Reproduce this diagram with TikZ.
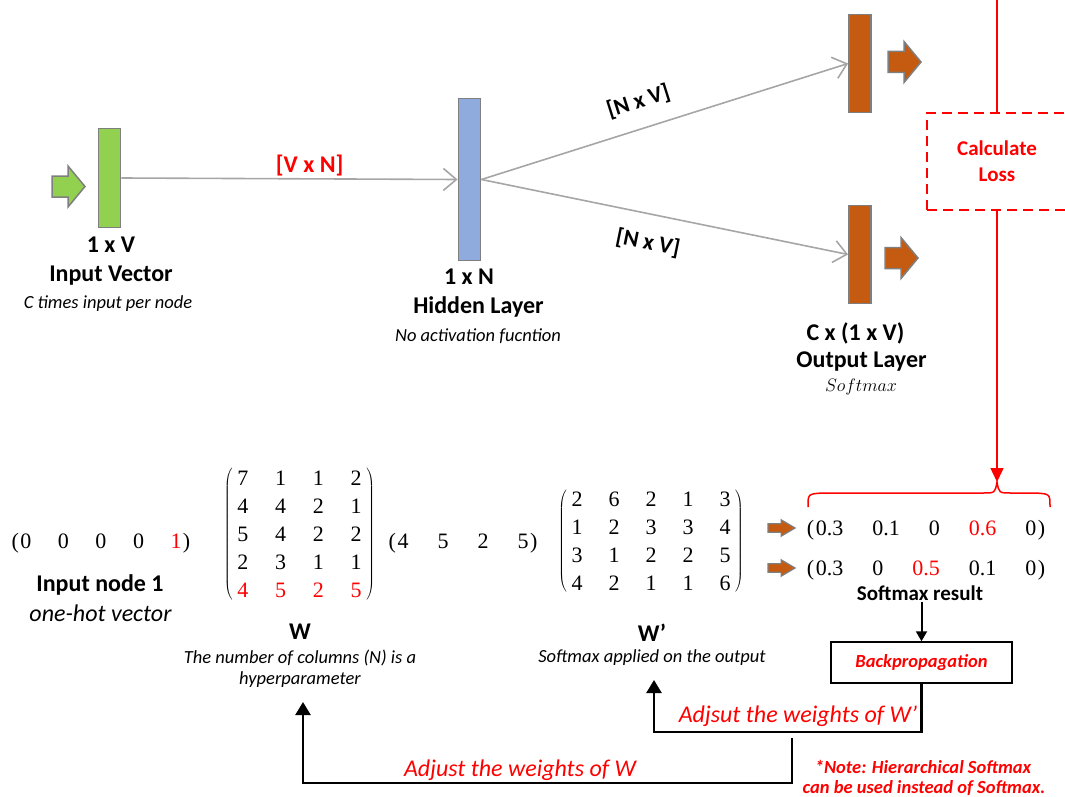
\documentclass[tikz,border=0pt]{standalone}
\usepackage{fix-cm}
\usepackage{amsmath}
\usepackage[no-math]{fontspec}
\setmainfont{Carlito}
\newfontfamily\numfont{Liberation Serif}
\usetikzlibrary{shapes,arrows.meta,positioning,calc,matrix}

\definecolor{layergreen}{HTML}{92D050}
\definecolor{layerblue}{HTML}{8FAADC}
\definecolor{layerorange}{HTML}{C55A11}
\definecolor{rimgray}{HTML}{7F7F7F}
\definecolor{wiregray}{HTML}{A6A6A6}

% parentheses of a one-row vector, hung outside its first and last entry
\newcommand\openvec{\llap{(\kern1.5pt}}
\newcommand\closevec{\rlap{\color{black}\kern1.5pt)}}

\tikzset{
  layer/.style={draw=rimgray, line width=1.8pt, minimum width=22pt, inner sep=0pt},
  wire/.style={wiregray, line width=1.6pt, -{Straight Barb[length=13pt,width=22pt,line width=1.6pt]}},
  title/.style={inner sep=1pt, text=black, font=\fontsize{24}{28}\selectfont\bfseries},
  remark/.style={inner sep=1pt, font=\fontsize{18.5}{22}\selectfont\itshape},
  redtext/.style={inner sep=1pt, text=red, font=\fontsize{24}{28}\selectfont\itshape},
  rowvec/.style={matrix of nodes,
    nodes={inner sep=0pt, text height=15pt, text depth=0pt, font=\fontsize{22}{26}\numfont}},
  vec/.style={rowvec, left delimiter=(, right delimiter=),
    every left delimiter/.style={xshift=2pt}, every right delimiter/.style={xshift=-2pt}},
  feedback/.style={line width=2.4pt, -{Triangle[length=13pt,width=15pt]}},
  fatarrow/.pic={
    \draw[pic actions] (0,-10.5) -- (16,-10.5) -- (16,-20.5) -- (33,0)
      -- (16,20.5) -- (16,10.5) -- (0,10.5) -- cycle;
  }
}

\begin{document}
\begin{tikzpicture}[x=1pt, y=-1pt]
  \useasboundingbox (0,0) rectangle (1065,797);
  \clip (0,0) rectangle (1065,797);

  % layers of the network
  \pic[draw=rimgray, fill=layergreen, line width=1.5pt] at (52,186.5) {fatarrow};
  \node[layer, fill=layergreen, minimum height=99pt] (inlayer) at (109.5,178) {};
  \node[layer, fill=layerblue, minimum height=162pt] (hidlayer) at (469.5,179.5) {};
  \node[layer, fill=layerorange, minimum height=98pt] (outtop) at (860,63.5) {};
  \node[layer, fill=layerorange, minimum height=98pt] (outbot) at (860,254.5) {};
  \pic[draw=rimgray, fill=layerorange, line width=1.5pt] at (888,62) {fatarrow};
  \pic[draw=rimgray, fill=layerorange, line width=1.5pt] at (885,258) {fatarrow};

  % weights between the layers
  \draw[wire] (inlayer.east) -- node[pos=0.56, above=1pt, title, text=red] {[V x N]} (hidlayer.west);
  \draw[wire] (hidlayer.east) -- node[pos=0.45, sloped, above=15pt, title, font=\fontsize{23}{27}\selectfont\bfseries] {[N x V]} (outtop.west);
  \draw[wire] (hidlayer.east) -- node[pos=0.47, sloped, below=17pt, title, font=\fontsize{23}{27}\selectfont\bfseries] {[N x V]} (outbot.west);

  % labels under the layers
  \node[title] (insize) at (111,245) {1 x V};
  \node[title] (inname) at (111,276) {Input Vector};
  \node[remark] (innote) at (108,304) {C times input per node};
  \node[title] (hidsize) at (469,277) {1 x N};
  \node[title] (hidname) at (478.5,307) {Hidden Layer};
  \node[remark] (hidnote) at (478,336) {No activation fucntion};
  \node[title] (outsize) at (855.5,333) {C x (1 x V)};
  \node[title] (outname) at (861.5,362) {Output Layer};
  \node[inner sep=1pt, font=\fontsize{18}{21}\selectfont] (outnote) at (861,387) {$Softmax$};

  % loss
  \node[draw=red, dash pattern=on 10pt off 6pt, line width=2pt, minimum width=140pt,
    minimum height=97pt, align=center, text=red,
    font=\fontsize{21}{26}\selectfont\bfseries] (loss) at (997,161.5) {Calculate\\Loss};
  \coordinate (bracetip) at (997,482);
  \draw[red, line width=1.5pt] (loss.north) -- (997,0);
  \draw[red, line width=1.5pt, -{Triangle[length=14pt,width=13pt]}] (loss.south) -- (bracetip);
  \draw[red, line width=1.5pt] (808,507) .. controls (808,494) .. (822,493) -- (983,493)
    .. controls (995,493) .. (bracetip) .. controls (999,493) .. (1011,493)
    -- (1036,493) .. controls (1050,494) .. (1050,507);

  % worked example
  \matrix[rowvec, column sep=26.5pt] (onehot) at (101,541) {\openvec 0 & 0 & 0 & 0 & |[red]| 1\closevec \\};
  \node[title] (onehotname) at (100,585) {Input node 1};
  \node[redtext, text=black] (onehotnote) at (100.5,613) {one-hot vector};

  \matrix[vec, column sep=26.7pt, row sep=13pt, row 5/.style={nodes={text=red}}] (wmat) at (299.5,534) {
    7 & 1 & 1 & 2 \\
    4 & 4 & 2 & 1 \\
    5 & 4 & 2 & 2 \\
    2 & 3 & 1 & 1 \\
    4 & 5 & 2 & 5 \\
  };
  \node[title] (wname) at (300,632) {W};
  \node[remark] (wnote1) at (300,658) {The number of columns (N) is a};
  \node[remark] (wnote2) at (300,680) {hyperparameter};

  \matrix[rowvec, column sep=29pt] (hidvec) at (463,541) {\openvec 4 & 5 & 2 & 5\closevec \\};

  \matrix[vec, column sep=26pt, row sep=13pt] (wpmat) at (651,541) {
    2 & 6 & 2 & 1 & 3 \\
    1 & 2 & 3 & 3 & 4 \\
    3 & 1 & 2 & 2 & 5 \\
    4 & 2 & 1 & 1 & 6 \\
  };
  \node[title] (wpname) at (652,633) {W’};
  \node[remark] (wpnote) at (652,658) {Softmax applied on the output};

  \pic[draw=rimgray, fill=layerorange, line width=1.2pt, xscale=0.82, yscale=0.4] at (768,528) {fatarrow};
  \pic[draw=rimgray, fill=layerorange, line width=1.2pt, xscale=0.82, yscale=0.4] at (768,568) {fatarrow};
  \matrix[rowvec, column sep=29pt] (soft1) at (926,528) {\openvec 0.3 & 0.1 & 0 & |[red]| 0.6 & 0\closevec \\};
  \matrix[rowvec, column sep=29pt] (soft2) at (926,568) {\openvec 0.3 & 0 & |[red]| 0.5 & 0.1 & 0\closevec \\};
  \node[title, font=\fontsize{21}{25}\selectfont\bfseries] (softres) at (920,593) {Softmax result};

  % backpropagation
  \node[draw, line width=1.5pt, minimum width=181pt, minimum height=41pt, text=red,
    font=\fontsize{18.5}{22}\selectfont\bfseries\itshape] (backprop) at (921.5,662.5) {Backpropagation};
  \draw[line width=2pt, -{Triangle[length=10pt,width=11pt]}] (softres.south -| backprop.north) -- (backprop.north);

  \coordinate (wpbend) at (654,732);
  \coordinate (wptip) at (654,680);
  \draw[feedback] (backprop.south) |- (wpbend) -- (wptip);
  \node[redtext] (adjwp) at (798,716) {Adjsut the weights of W’};

  \coordinate (wstart) at (792,738);
  \coordinate (wtip) at (303,702);
  \draw[feedback] (wstart) -- ++(0,45) -| (wtip);
  \node[redtext] (adjw) at (520,770) {Adjust the weights of W};

  \node[inner sep=1pt, text=red, font=\fontsize{18.5}{22}\selectfont\bfseries\itshape] (note1) at (923,767) {*Note: Hierarchical Softmax};
  \node[inner sep=1pt, text=red, font=\fontsize{18.5}{22}\selectfont\bfseries\itshape] (note2) at (924,788) {can be used instead of Softmax.};
\end{tikzpicture}
\end{document}
